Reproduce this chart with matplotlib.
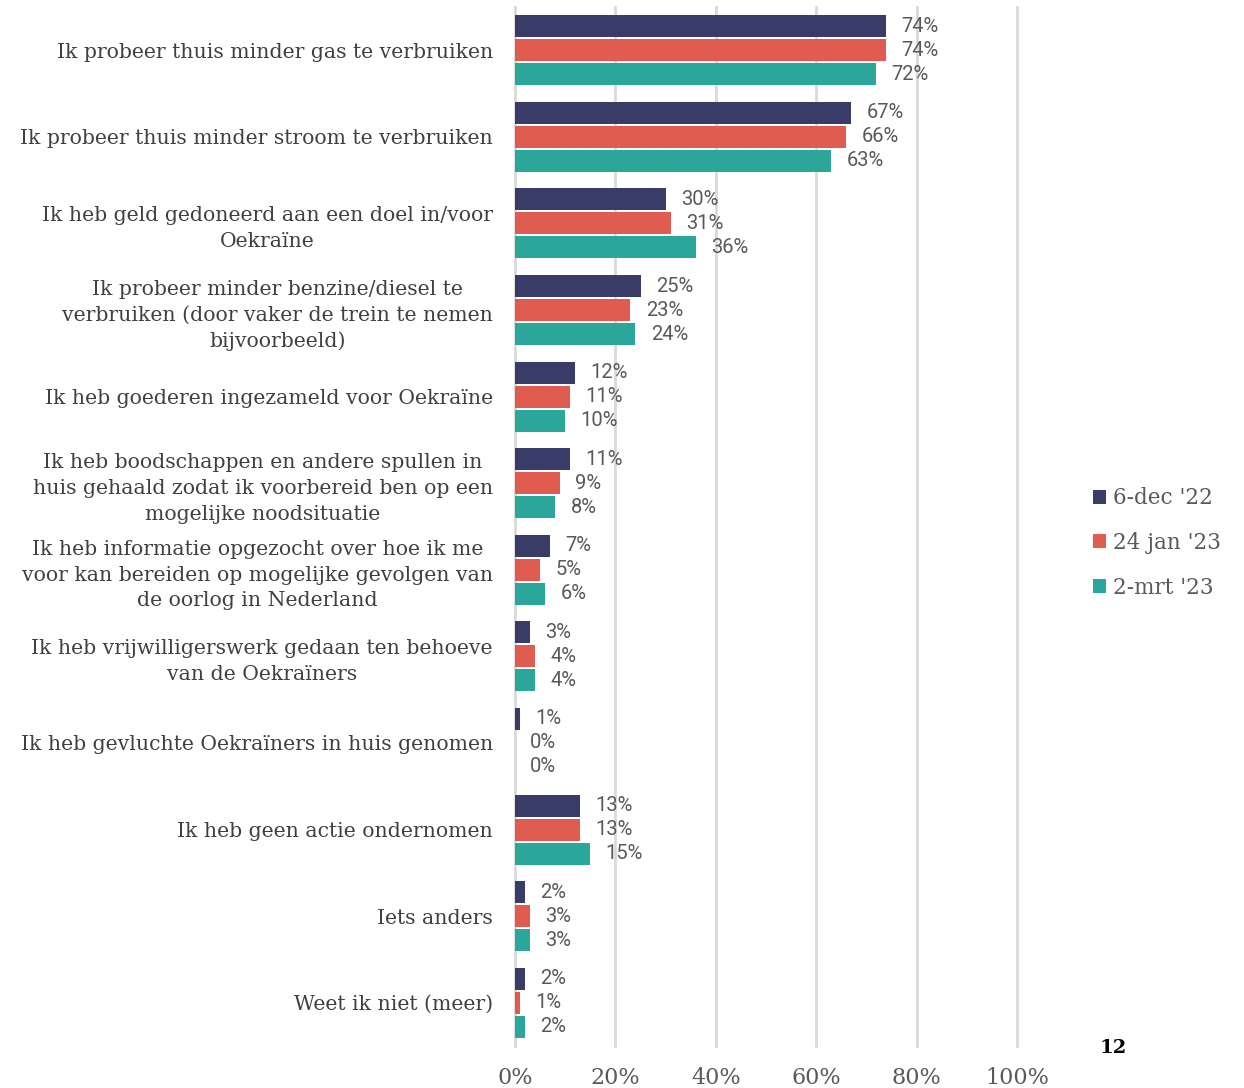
import matplotlib.pyplot as plt
import numpy as np

# Data
categories = [
    "Ik probeer thuis minder gas te verbruiken",
    "Ik probeer thuis minder stroom te verbruiken",
    "Ik heb geld gedoneerd aan een doel in/voor\nOekraïne",
    "Ik probeer minder benzine/diesel te\nverbruiken (door vaker de trein te nemen\nbijvoorbeeld)",
    "Ik heb goederen ingezameld voor Oekraïne",
    "Ik heb boodschappen en andere spullen in\nhuis gehaald zodat ik voorbereid ben op een\nmogelijke noodsituatie",
    "Ik heb informatie opgezocht over hoe ik me\nvoor kan bereiden op mogelijke gevolgen van\nde oorlog in Nederland",
    "Ik heb vrijwilligerswerk gedaan ten behoeve\nvan de Oekraïners",
    "Ik heb gevluchte Oekraïners in huis genomen",
    "Ik heb geen actie ondernomen",
    "Iets anders",
    "Weet ik niet (meer)",
]
dec22 = [74, 67, 30, 25, 12, 11, 7, 3, 1, 13, 2, 2]
jan23 = [74, 66, 31, 23, 11, 9, 5, 4, 0, 13, 3, 1]
mrt23 = [72, 63, 36, 24, 10, 8, 6, 4, 0, 15, 3, 2]
series_names = ["6-dec '22", "24 jan '23", "2-mrt '23"]
colors = ["#3a3c68", "#e05c50", "#2aa69a"]
ticks = [0, 20, 40, 60, 80, 100]

fig = plt.figure(figsize=(12.44, 10.88), dpi=100)
ax = fig.add_axes([0.414, 0.0386, 0.4035, 0.955])

y = np.arange(len(categories))
h = 0.254
off = 0.277
for i, (vals, name, c) in enumerate(zip([dec22, jan23, mrt23], series_names, colors)):
    pos = y + (i - 1) * off
    ax.barh(pos, vals, height=h, color=c, label=name, zorder=3)
    for p, v in zip(pos, vals):
        ax.annotate(f"{v}%", (v, p), xytext=(11, 0), textcoords="offset points",
                    va="center", ha="left", fontsize=14.5, color="#595959",
                    family="Roboto")

ax.set_xlim(0, 100)
ax.set_ylim(len(categories) - 0.5, -0.5)
ax.set_yticks(y)
ax.set_yticklabels(categories, family="DejaVu Serif", fontsize=14.7, color="#404040",
                   multialignment="center", linespacing=1.45)
ax.set_xticks(ticks)
ax.set_xticklabels([f"{t}%" for t in ticks], family="DejaVu Serif", fontsize=16,
                   color="#595959")
ax.tick_params(length=0, axis="y", pad=16)
ax.tick_params(length=0, axis="x", pad=15)
ax.grid(axis="x", color="#d9d9d9", linewidth=2, zorder=0)
for gl in ax.get_xgridlines():
    gl.set_clip_on(False)
for s in ax.spines.values():
    s.set_visible(False)

leg = fig.legend(loc="center left", bbox_to_anchor=(0.863, 0.501), frameon=False,
                 prop={"family": "DejaVu Serif", "size": 15.5}, handlelength=0.6,
                 handleheight=0.6, handletextpad=0.35, labelspacing=1.05,
                 labelcolor="#595959")

fig.text(0.895, 0.037, "12", family="DejaVu Serif", fontsize=14, fontweight="bold",
         color="black", ha="center", va="center")

fig.savefig("out.png", dpi=100)
